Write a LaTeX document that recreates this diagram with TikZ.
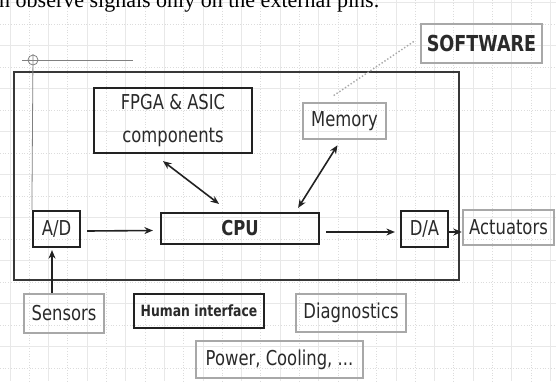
\documentclass[tikz,border=0pt]{standalone}
\usepackage{fontspec}
\setmainfont{DejaVu Sans}[FakeStretch=0.8]
\newfontfamily\serifface{Liberation Serif}
\usetikzlibrary{arrows.meta,calc}
\definecolor{txt}{HTML}{2A2A2A}
\definecolor{dark}{HTML}{222222}
\definecolor{lgray}{HTML}{A8A8A8}
\definecolor{gridc}{HTML}{E8E8E8}
\definecolor{gridd}{HTML}{DCDCDC}
\begin{document}
\begin{tikzpicture}[x=1pt,y=-1pt,
  darkbox/.style={draw=dark,line width=2.2pt,inner sep=0pt,text=txt},
  graybox/.style={draw=lgray,line width=2.5pt,inner sep=0pt,text=txt},
  lbl/.style={font=\fontsize{20.5}{33}\selectfont},
  arr/.style={draw=dark,line width=1.6pt,-{Stealth[length=8.5pt,width=7pt]}},
  darr/.style={draw=dark,line width=1.6pt,{Stealth[length=8.5pt,width=7pt]}-{Stealth[length=8.5pt,width=7pt]}},
  gridsolid/.style={draw=gridc,line width=0.6pt},
  griddot/.style={draw=gridd,line width=0.7pt,dotted}
]
\useasboundingbox (0,0) rectangle (556,381);
\clip (0,0) rectangle (556,381);
\fill[white] (0,0) rectangle (556,381);
% background grid
\foreach \i in {0,...,28}{
  \pgfmathsetmacro{\gx}{9.8+19.3*\i}
  \ifodd\i \draw[griddot] (\gx,0) -- (\gx,381); \else \draw[gridsolid] (\gx,0) -- (\gx,381); \fi
}
\foreach \j in {0,...,17}{
  \pgfmathsetmacro{\gy}{2.5+21.5*\j}
  \ifodd\j \draw[griddot] (0,\gy) -- (556,\gy); \else \draw[gridsolid] (0,\gy) -- (556,\gy); \fi
}
% cut-off caption line at the top (the reference shows only its lower part)
\node[anchor=base west,inner sep=0pt,text=black,font=\serifface\fontsize{22}{26}\selectfont] (caption) at (-1,7) {n observe signals only on the external pins.};
% outer system frame
\draw[draw=dark!90,line width=1.6pt] (14,72) rectangle (459,280);
% boxes
\node[darkbox,lbl,minimum width=158pt,minimum height=65pt,align=center] (fpga) at (173,120.5) {FPGA \& ASIC\\components};
\node[graybox,lbl,minimum width=83pt,minimum height=36pt] (memory) at (344.5,121) {Memory};
\node[graybox,font=\bfseries\fontsize{22}{26}\selectfont,minimum width=121pt,minimum height=39pt] (software) at (481.5,43.5) {SOFTWARE};
\node[darkbox,font=\bfseries\fontsize{20.5}{24}\selectfont,minimum width=158pt,minimum height=31pt] (cpu) at (240,228.5) {CPU};
\node[darkbox,lbl,minimum width=47pt,minimum height=36pt] (ad) at (56.5,229) {A/D};
\node[darkbox,lbl,minimum width=47pt,minimum height=36pt] (da) at (424.5,229) {D/A};
\node[graybox,lbl,minimum width=91pt,minimum height=35pt] (act) at (508.5,227.5) {Actuators};
\node[graybox,lbl,minimum width=80pt,minimum height=39pt] (sensors) at (64,313.5) {Sensors};
\node[darkbox,font=\bfseries\fontsize{15.5}{18}\selectfont,minimum width=130pt,minimum height=34pt] (human) at (199,311) {Human interface};
\node[graybox,lbl,minimum width=110pt,minimum height=38pt] (diag) at (351,313) {Diagnostics};
\node[graybox,lbl,minimum width=167pt,minimum height=37pt] (power) at (279.5,359.5) {Power, Cooling, ...};
% cursor cross-hair
\draw[gray,line width=0.8pt] (22,60.5) -- (133,60.5);
\draw[gray,line width=0.8pt] (33,54) -- (ad.north west);
\draw[gray,line width=0.8pt] (33,60) circle[radius=5pt];
% software link
\coordinate (swend) at (333,96);
\draw[lgray,line width=1.4pt,dotted] ([shift={(-6,-2)}]software.west) -- (swend);
% connectors
\draw[darr] ([shift={(-10,7)}]fpga.south) -- ([shift={(-21,-8)}]cpu.north);
\draw[darr] ([shift={(-7,5)}]memory.south) -- ([shift={(-22,-4)}]cpu.north east);
\draw[arr] ([shift={(6,2)}]ad.east) -- ([shift={(-7,2)}]cpu.west);
\draw[arr] ([shift={(6,3.5)}]cpu.east) -- ([shift={(-5,3)}]da.west);
\draw[arr] ([shift={(0,3)}]da.east) -- ([shift={(0,3)}]da.east -| act.west);
\draw[arr] ([shift={(-12,0)}]sensors.north) -- ([shift={(-4.5,2)}]ad.south);
\end{tikzpicture}
\end{document}
